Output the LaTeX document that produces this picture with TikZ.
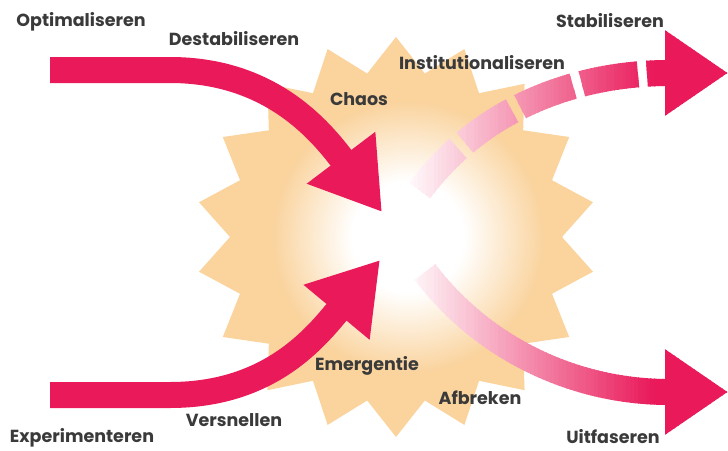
\documentclass[tikz,border=0pt]{standalone}
\usepackage{fontspec}
\setmainfont{Poppins}
\usetikzlibrary{arrows.meta}
\definecolor{burstpeach}{RGB}{250,211,157}
\definecolor{flowpink}{RGB}{233,25,90}
\definecolor{labelgray}{RGB}{58,58,58}
\pgfdeclareradialshading{burstglow}{\pgfpoint{0bp}{0bp}}{color(0bp)=(white); color(9bp)=(white); color(22bp)=(burstpeach); color(50bp)=(burstpeach)}
\newcommand{\burstpath}{(10:200) \foreach \a in {10,30,...,350}{ -- (\a:200) -- ({\a+10}:166)} -- cycle}

\begin{document}
\begin{tikzpicture}[x=1pt,y=-1pt]
  \tikzstyle{lbl}=[font=\fontsize{17.5}{20}\selectfont\bfseries, text=labelgray, inner sep=0pt]
  \tikzstyle{flow}=[line width=26pt, flowpink, -{Triangle[length=68pt,width=81pt]}]
  \tikzstyle{outflow}=[line width=26pt, -{Triangle[length=63pt,width=81pt]}]
  \useasboundingbox (0,0) rectangle (728,450);
  % burst in the middle
  \coordinate (burst) at (396,237);
  \begin{scope}[shift={(burst)}]
    \fill[burstpeach] \burstpath;
    \clip \burstpath;
    \shade[shading=burstglow] (12,0) circle (155);
  \end{scope}
  % incoming arrows
  \coordinate (optIn) at (50,70);
  \coordinate (optBend) at (170,70);
  \coordinate (chaosTip) at (382,212);
  \coordinate (expIn) at (50,395);
  \coordinate (expBend) at (170,395);
  \coordinate (emergTip) at (380,260);
  \draw[flow] (optIn) -- (optBend) .. controls +(100,0) and +(-62,-82) .. (chaosTip);
  \draw[flow] (expIn) -- (expBend) .. controls +(100,0) and +(-64,77) .. (emergTip);
  % outgoing arrows, fading in from the centre
  \coordinate (stabOut) at (418,193);
  \coordinate (stabTip) at (728,73);
  \coordinate (uitOut) at (425,272);
  \coordinate (uitTip) at (728,392);
  \foreach \x in {410,414,...,726}{
    \pgfmathtruncatemacro{\p}{min(100,4+(\x-410)*0.4)}
    \begin{scope}
      \clip (\x,0) rectangle (\x+5,450);
      \draw[outflow, flowpink!\p!white, dash pattern=on 57pt off 9pt, dash phase=-3pt] (stabOut) .. controls +(62,-86) and +(-150,0) .. (stabTip);
      \draw[outflow, flowpink!\p!white] (uitOut) .. controls +(55,73) and +(-158,0) .. (uitTip);
    \end{scope}
  }
  % labels
  \node[lbl] (optimaliseren) at (81,22) {Optimaliseren};
  \node[lbl] (destabiliseren) at (234,39) {Destabiliseren};
  \node[lbl] (chaos) at (359,99) {Chaos};
  \node[lbl] (institutionaliseren) at (482,63) {Institutionaliseren};
  \node[lbl] (stabiliseren) at (610,21) {Stabiliseren};
  \node[lbl] (emergentie) at (367,366) {Emergentie};
  \node[lbl] (afbreken) at (480,398) {Afbreken};
  \node[lbl] (versnellen) at (234,420) {Versnellen};
  \node[lbl] (experimenteren) at (82,438) {Experimenteren};
  \node[lbl] (uitfaseren) at (613,437) {Uitfaseren};
\end{tikzpicture}
\end{document}
